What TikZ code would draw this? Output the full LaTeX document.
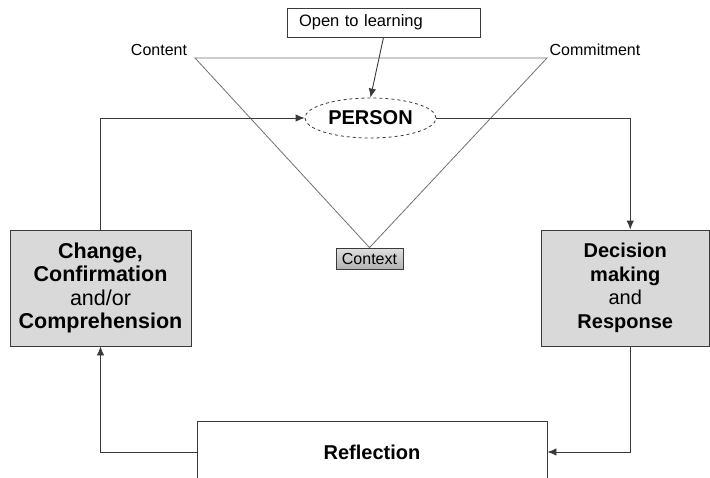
\documentclass[tikz,border=0pt]{standalone}
\usepackage{fontspec}
\setmainfont{Liberation Sans}
\usetikzlibrary{arrows.meta,shapes.geometric,calc}
\definecolor{linedark}{HTML}{3A3A3A}
\definecolor{linegray}{HTML}{707070}
\definecolor{boxfill}{HTML}{D9D9D9}
\begin{document}
\begin{tikzpicture}[x=1pt,y=-1pt,
  lbl/.style={font=\fontsize{16}{19}\selectfont, inner sep=0pt},
  bigbox/.style={draw=linedark, line width=0.9pt, fill=boxfill, align=center,
     font=\fontsize{20}{23.5}\selectfont, inner sep=0pt},
  loop/.style={draw=linedark, line width=0.9pt},
  arr/.style={-{Latex[length=9pt,width=7.5pt]}},
  tri/.style={draw=linegray, line width=0.8pt}
]
\useasboundingbox (0,0) rectangle (710,477);
\fill[white] (0,0) rectangle (710,477);

% Open to learning
\node[draw=linedark, line width=0.8pt, minimum width=193pt, minimum height=29pt,
      text width=169pt, inner xsep=12pt, inner ysep=0pt, align=left,
      font=\fontsize{16.5}{19}\selectfont] (open) at (383.5,22.5) {Open to learning};

% PERSON
\node[ellipse, draw=linedark, dashed, line width=0.8pt, minimum width=131pt,
      minimum height=40pt, inner sep=0pt, font=\bfseries\fontsize{20}{24}\selectfont]
      (person) at (370.5,118) {PERSON};

% labels
\node[lbl] (content) at (159,50) {Content};
\node[lbl] (commit) at (595,50) {Commitment};

% Context
\node[draw=linedark, line width=0.8pt, top color=gray!25, bottom color=gray!60,
      minimum width=67pt, minimum height=21pt, inner sep=0pt,
      font=\fontsize{16}{19}\selectfont] (context) at (369.5,258.5) {Context};

% triangle
\coordinate (tl) at (195,58);
\coordinate (tr) at (547,58);
\draw[tri] (tl) -- (tr) -- (context.north) -- cycle;

% side boxes
\node[bigbox, minimum width=181pt, minimum height=116pt,
      font=\fontsize{21.5}{23.5}\selectfont] (left) at (100.5,288)
  {\textbf{Change,}\\\textbf{Confirmation}\\and/or\\\textbf{Comprehension}};
\node[bigbox, minimum width=168.5pt, minimum height=116pt] (right) at (625.25,288)
  {\textbf{Decision}\\\textbf{making}\\and\\\textbf{Response}};

% Reflection
\node[draw=linedark, line width=0.9pt, fill=white, minimum width=350pt,
      minimum height=62pt, inner sep=0pt, font=\bfseries\fontsize{20}{24}\selectfont]
      (refl) at (372,452) {Reflection};

% connectors
\draw[loop, arr] (open.south) -- (person.north);
\draw[loop, arr] (left.north) |- (person.west);
\draw[loop, arr] (person.east) -| ([xshift=5pt]right.north);
\draw[loop, arr] ([xshift=5pt]right.south) |- (refl.east);
\draw[loop, arr] (refl.west) -| (left.south);
\end{tikzpicture}
\end{document}
